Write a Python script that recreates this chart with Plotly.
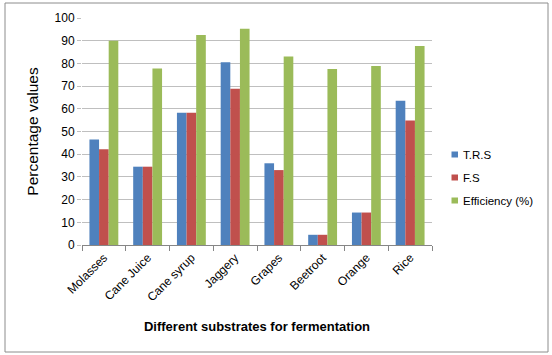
import plotly.graph_objects as go

categories = ["Molasses", "Cane Juice", "Cane syrup", "Jaggery", "Grapes", "Beetroot", "Orange", "Rice"]
trs = [46.5, 34.5, 58.3, 80.5, 36.0, 4.5, 14.3, 63.6]
fs = [42.2, 34.5, 58.3, 68.8, 33.0, 4.5, 14.3, 54.8]
efficiency = [90.0, 77.8, 92.5, 95.3, 83.0, 77.5, 78.9, 87.7]
series_names = ["T.R.S", "F.S", "Efficiency (%)"]
series_colors = ["#4F81BD", "#C0504D", "#9BBB59"]
y_ticks = [0, 10, 20, 30, 40, 50, 60, 70, 80, 90, 100]

W, H = 552, 355
L, R, T, B = 82, 432, 18, 245

fig = go.Figure()
for name, vals, col in zip(series_names, [trs, fs, efficiency], series_colors):
    fig.add_trace(go.Bar(name=name, x=categories, y=vals, marker_color=col, marker_line_width=0))

def px_x(p):
    return (p - L) / (R - L)

def px_y(p):
    return (B - p) / (B - T)

shapes = [dict(type="rect", xref="paper", yref="paper",
               x0=px_x(5), x1=px_x(548), y0=px_y(352), y1=px_y(3),
               line=dict(color="#8C8C8C", width=1), fillcolor="rgba(0,0,0,0)", layer="below")]
annotations = []
for i, (name, col) in enumerate(zip(series_names, series_colors)):
    cy = 154.5 + 23 * i
    shapes.append(dict(type="rect", xref="paper", yref="paper",
                       x0=px_x(451.5), x1=px_x(458), y0=px_y(cy + 3), y1=px_y(cy - 3),
                       line=dict(width=0), fillcolor=col))
    annotations.append(dict(text=name, xref="paper", yref="paper", x=px_x(461), y=px_y(cy),
                            xanchor="left", yanchor="middle", showarrow=False,
                            font=dict(size=11.5, color="#000")))

fig.update_layout(
    width=W, height=H,
    margin=dict(l=L, r=W - R, t=T, b=H - B, pad=0, autoexpand=False),
    paper_bgcolor="white", plot_bgcolor="white",
    barmode="group", bargap=0.34, bargroupgap=0,
    font=dict(family="Liberation Sans", size=12, color="#000"),
    showlegend=False,
    shapes=shapes,
    annotations=annotations,
)
fig.update_xaxes(
    automargin=False,
    showgrid=False, showline=True, linecolor="#868686", linewidth=1,
    ticks="outside", tickson="boundaries", ticklen=5, tickcolor="#868686",
    tickangle=-45, tickfont=dict(size=12),
    title=dict(text="<b>Different substrates for fermentation</b>", font=dict(size=13), standoff=18),
)
fig.update_yaxes(
    automargin=False,
    range=[0, 100], tickvals=y_ticks, showgrid=True, gridcolor="#BFBFBF", gridwidth=1,
    showline=False, ticks="outside", ticklen=4, tickcolor="#BFBFBF", zeroline=False,
    tickfont=dict(size=12),
    title=dict(text="Percentage values", font=dict(size=15.5), standoff=12),
)
fig.write_html("out.html", config={"displayModeBar": False},
               post_script="document.body.style.margin='0';document.body.style.overflow='hidden';")
